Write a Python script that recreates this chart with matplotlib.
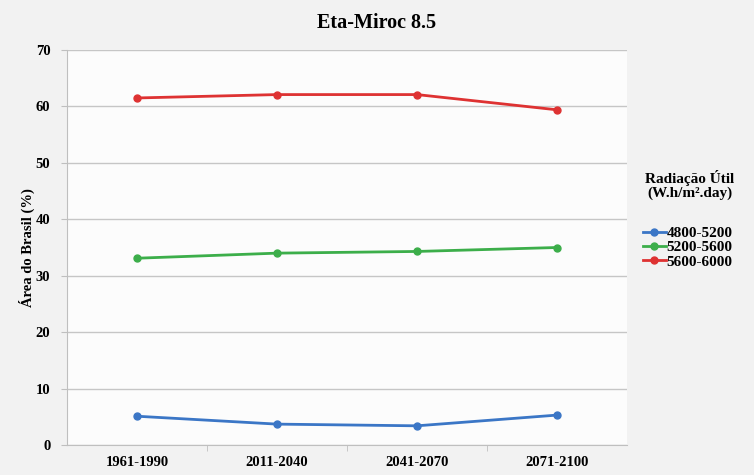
import matplotlib.pyplot as plt
from matplotlib.ticker import FixedLocator
import numpy as np

# data
periods = ['1961-1990', '2011-2040', '2041-2070', '2071-2100']
faixa_4800_5200 = [5.1, 3.7, 3.4, 5.3]
faixa_5200_5600 = [33.1, 34.0, 34.3, 35.0]
faixa_5600_6000 = [61.5, 62.1, 62.1, 59.4]
series_labels = ['4800-5200', '5200-5600', '5600-6000']
series_colors = ['#3b76c6', '#3cae4a', '#de3232']
yticks = [0, 10, 20, 30, 40, 50, 60, 70]

plt.rcParams['font.family'] = ['Liberation Serif', 'DejaVu Serif']
plt.rcParams['font.weight'] = 'bold'

fig = plt.figure(figsize=(7.54, 4.75), dpi=100, facecolor='#f2f2f2')
ax = fig.add_axes([67 / 754, 1 - 445 / 475, 560 / 754, 395 / 475])
ax.set_facecolor('#fcfcfc')

x = np.arange(len(periods))
for vals, lab, col in zip([faixa_4800_5200, faixa_5200_5600, faixa_5600_6000],
                          series_labels, series_colors):
    ax.plot(x, vals, color=col, lw=2, marker='o', ms=5, label=lab)

ax.set_xlim(-0.5, len(periods) - 0.5)
ax.set_ylim(0, 70)
ax.set_yticks(yticks)
ax.set_xticks(x)
ax.set_xticklabels(periods, fontsize=10.5, fontweight='bold')
ax.xaxis.set_minor_locator(FixedLocator(x[:-1] + 0.5))
ax.tick_params(axis='x', which='major', length=0, pad=8)
ax.tick_params(axis='x', which='minor', length=4, color='#bfbfbf')
ax.tick_params(axis='y', length=4, color='#bfbfbf', labelsize=10.5, pad=8)
for t in ax.get_yticklabels():
    t.set_fontweight('bold')

ax.grid(axis='y', color='#c6c6c6', lw=1)
ax.set_axisbelow(True)
for s in ['top', 'right']:
    ax.spines[s].set_visible(False)
ax.spines['left'].set_color('#bfbfbf')
ax.spines['bottom'].set_color('#bfbfbf')

ax.set_ylabel('Área do Brasil (%)', fontsize=10.5, fontweight='bold',
              va='center')
ax.yaxis.set_label_coords(-40 / 560, 0.5)
fig.text(0.5, 0.952, 'Eta-Miroc 8.5', ha='center', va='center',
         fontsize=14.5, fontweight='bold')

# legend title drawn separately so its line spacing can be tight
fig.text(690 / 754, 1 - 185 / 475, 'Radiação Útil\n(W.h/m².day)', ha='center',
         va='center', fontsize=11, fontweight='bold', linespacing=1.05)
leg = fig.legend(loc='center left', bbox_to_anchor=(643 / 754, 1 - 247.5 / 475),
                 frameon=False, fontsize=11, handlelength=1.5, handletextpad=0.05,
                 labelspacing=0.05, borderpad=0, borderaxespad=0)
for t in leg.get_texts():
    t.set_fontweight('bold')

fig.savefig('out.png', dpi=100, facecolor=fig.get_facecolor())
